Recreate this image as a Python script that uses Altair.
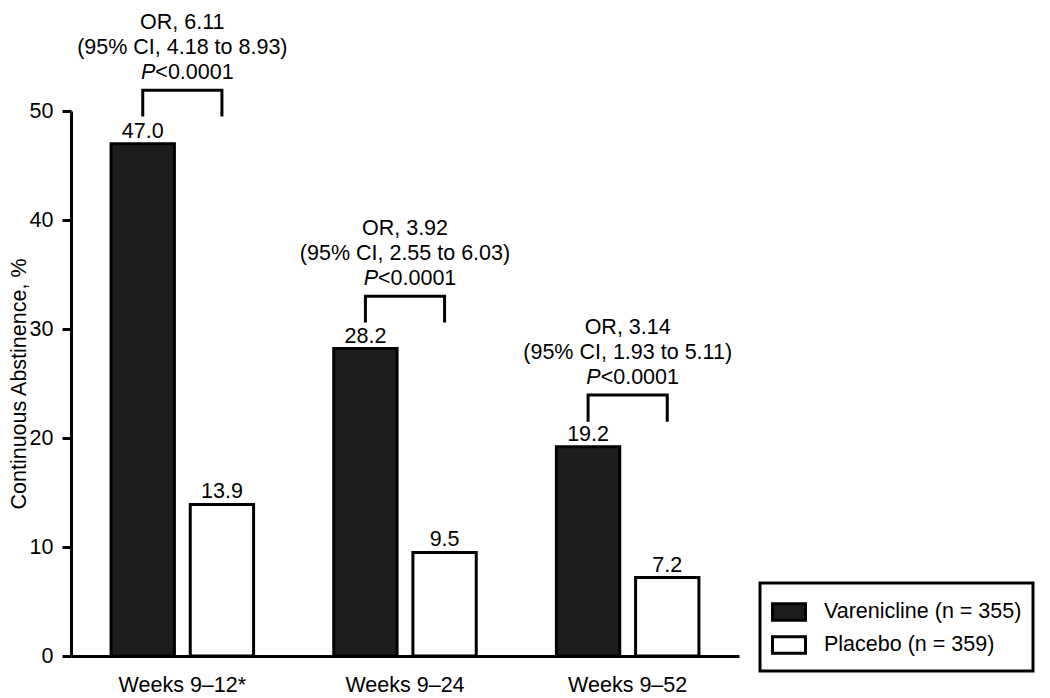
import altair as alt
import pandas as pd

groups = ["Weeks 9–12*", "Weeks 9–24", "Weeks 9–52"]
series = ["Varenicline (n = 355)", "Placebo (n = 359)"]
varenicline = [47.0, 28.2, 19.2]
placebo = [13.9, 9.5, 7.2]
or_text = ["OR, 6.11", "OR, 3.92", "OR, 3.14"]
ci_text = ["(95% CI, 4.18 to 8.93)", "(95% CI, 2.55 to 6.03)", "(95% CI, 1.93 to 5.11)"]
p_prefix = ["P", "P", "P"]
p_value = ["<0.0001", "<0.0001", "<0.0001"]
bracket_low = [49.5, 30.6, 21.5]
bracket_high = [51.9, 33.0, 23.95]
y_ticks = [0, 10, 20, 30, 40, 50]

FONT = "Liberation Sans"
FS = 21.5
PLOT_H = 545

bars = pd.DataFrame({
    "group": groups * 2,
    "series": [series[0]] * 3 + [series[1]] * 3,
    "value": varenicline + placebo,
})
bars["label"] = bars["value"].map(lambda v: f"{v:.1f}")

ann = pd.DataFrame({
    "group": groups, "or": or_text, "ci": ci_text,
    "top": bracket_high, "p": p_prefix, "pv": p_value,
})

rows = []
for g, lo, hi in zip(groups, bracket_low, bracket_high):
    rows += [
        {"group": g, "series": series[0], "value": lo, "ord": 0},
        {"group": g, "series": series[0], "value": hi, "ord": 1},
        {"group": g, "series": series[1], "value": hi, "ord": 2},
        {"group": g, "series": series[1], "value": lo, "ord": 3},
    ]
brk = pd.DataFrame(rows)

x_scale = alt.Scale(domain=groups, paddingInner=0.36, paddingOuter=0.18)
off_scale = alt.Scale(domain=series, paddingInner=0.2)
y_scale = alt.Scale(domain=[0, 50], nice=False, zero=True)

x_axis = alt.Axis(title=None, ticks=False, labelPadding=18, labelAngle=0,
                  domainWidth=3, domainColor="black", labelFontSize=FS,
                  labelColor="black", labelFont=FONT, labelBaseline="top")
y_axis = alt.Axis(title="Continuous Abstinence, %", values=y_ticks, grid=False,
                  tickSize=9, tickWidth=3, tickColor="black", domainWidth=3,
                  domainColor="black", labelPadding=9, labelFontSize=FS,
                  labelColor="black", titleFontSize=FS, titleFontWeight="normal",
                  titleColor="black", labelFont=FONT, titleFont=FONT,
                  titleX=-46, titleY=PLOT_H / 2, titleBaseline="alphabetic",
                  titleAngle=270, titleAlign="center")

X = alt.X("group:N", scale=x_scale, sort=groups, axis=x_axis)
XO = alt.XOffset("series:N", scale=off_scale, sort=series)

bar_layer = alt.Chart(bars).mark_bar(stroke="black", strokeWidth=3).encode(
    x=X,
    xOffset=XO,
    y=alt.Y("value:Q", scale=y_scale, axis=y_axis),
    color=alt.Color("series:N", scale=alt.Scale(domain=series, range=["#1c1c1c", "#ffffff"]),
                    legend=alt.Legend(title=None, orient="none", legendX=689, legendY=472,
                                      symbolType="M-1,-0.5H1V0.5H-1Z", symbolSize=1089,
                                      symbolStrokeColor="black", symbolStrokeWidth=3,
                                      labelFontSize=FS, labelFont=FONT, labelColor="black",
                                      labelLimit=400, labelOffset=17, padding=11,
                                      rowPadding=-4, strokeColor="black", symbolOpacity=1)),
)

bar_text = alt.Chart(bars).mark_text(baseline="alphabetic", dy=-6, fontSize=FS, font=FONT,
                                     color="black").encode(
    x=X, xOffset=XO, y=alt.Y("value:Q", scale=y_scale, axis=y_axis), text="label:N")

bracket = alt.Chart(brk).mark_line(color="black", strokeWidth=3, strokeJoin="miter",
                                   strokeCap="butt").encode(
    x=X, xOffset=XO, y=alt.Y("value:Q", scale=y_scale, axis=y_axis),
    order=alt.Order("ord:Q"), detail="group:N")

def ann_text(field, dy, **kw):
    return alt.Chart(ann).mark_text(baseline="alphabetic", dy=dy, fontSize=FS, font=FONT,
                                    color="black", **kw).encode(
        x=X, y=alt.Y("top:Q", scale=y_scale, axis=y_axis), text=f"{field}:N")

t_or = ann_text("or", -61)
t_ci = ann_text("ci", -36)
t_p = ann_text("p", -11, align="right", dx=-27, fontStyle="italic")
t_pv = ann_text("pv", -11, align="left", dx=-27)

chart = alt.layer(bar_layer, bar_text, bracket, t_or, t_ci, t_p, t_pv).properties(
    width=668, height=PLOT_H,
    autosize=alt.AutoSizeParams(type="none"),
    padding={"left": 63, "top": 103, "right": 303, "bottom": 42},
).configure(font=FONT).configure_view(stroke=None, strokeWidth=0).configure_legend(strokeWidth=3)

chart.save("out.html", embed_options={"renderer": "svg", "actions": False})
